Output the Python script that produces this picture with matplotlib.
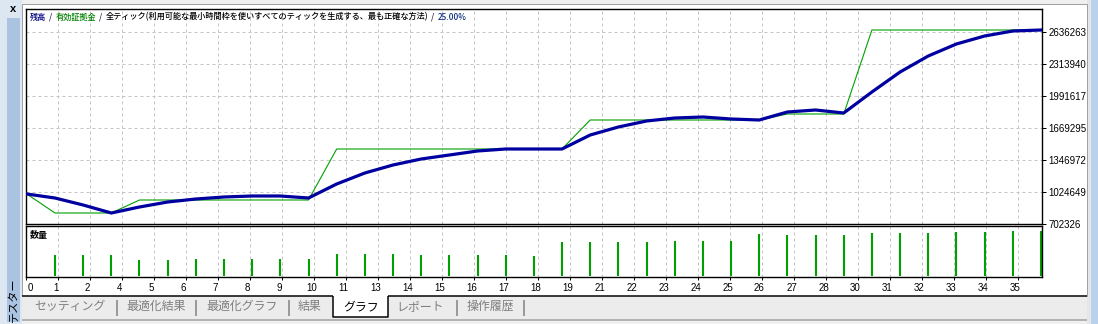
import matplotlib
matplotlib.use('Agg')
import matplotlib.pyplot as plt
from matplotlib.patches import Rectangle
from matplotlib.lines import Line2D
from matplotlib.transforms import ScaledTranslation
import numpy as np

# ---------------- data ----------------
trade_no = list(range(37))
balance = [1004500, 964200, 893700, 813100, 873600, 923900, 954100, 974300, 984400,
           984400, 964200, 1105200, 1216000, 1296600, 1357100, 1397300, 1437600,
           1457800, 1457800, 1457800, 1598800, 1679400, 1739800, 1770000, 1780100,
           1760000, 1749900, 1830500, 1850600, 1820400, 2031900, 2233400, 2394500,
           2515400, 2595900, 2646300, 2656400]
equity = [1004500, 813100, 813100, 813100, 944100, 944100, 944100, 944100, 944100,
          944100, 944100, 1457800, 1457800, 1457800, 1457800, 1457800, 1457800,
          1457800, 1457800, 1457800, 1749900, 1749900, 1749900, 1749900, 1749900,
          1749900, 1749900, 1810300, 1810300, 1810300, 2656400, 2656400, 2656400,
          2656400, 2656400, 2656400, 2656400]
volume_trade = list(range(1, 37))
volume = [2.1, 2.1, 2.1, 1.6, 1.6, 1.7, 1.7, 1.7, 1.7, 1.7, 2.2, 2.2, 2.2, 2.1, 2.1,
          2.1, 2.1, 2.0, 3.4, 3.4, 3.4, 3.4, 3.5, 3.5, 3.5, 4.2, 4.1, 4.1, 4.1, 4.3,
          4.3, 4.3, 4.4, 4.4, 4.5, 4.5]
x_tick_labels = ['0', '1', '2', '4', '5', '6', '7', '8', '9', '10', '11', '13', '14',
                 '15', '16', '17', '18', '19', '21', '22', '23', '24', '25', '26', '27',
                 '28', '30', '31', '32', '33', '34', '35']
y_tick_values = [702326, 1024649, 1346972, 1669295, 1991617, 2313940, 2636263]
title_parts = [('残高', '#000080'), ('/', '#202040'), ('有効証拠金', '#008000'), ('/', '#202040'),
               ('全ティック(利用可能な最小時間枠を使いすべてのティックを生成する、最も正確な方法)', '#000000'),
               ('/', '#202040'), ('25.00%', '#103080')]
tabs = ['セッティング', '最適化結果', '最適化グラフ', '結果', 'グラフ', 'レポート', '操作履歴']

# ---------------- figure ----------------
W, H, DPI = 1098, 324, 100
fig = plt.figure(figsize=(W / DPI, H / DPI), dpi=DPI)
fig.patch.set_facecolor('#f0f0f0')
JP = ['Noto Sans CJK JP', 'DejaVu Sans']
NUM = ['Liberation Sans', 'DejaVu Sans']


def fx(x):
    return x / W


def fy(y):
    return 1 - y / H


def rect(x0, y0, x1, y1, fc, ec='none', lw=0, z=-5):
    fig.add_artist(Rectangle((fx(x0), fy(y1)), (x1 - x0) / W, (y1 - y0) / H,
                             transform=fig.transFigure, facecolor=fc, edgecolor=ec,
                             linewidth=lw, zorder=z))


def line(xs, ys, color, lw=1.0, z=-4):
    fig.add_artist(Line2D([fx(v) for v in xs], [fy(v) for v in ys],
                          transform=fig.transFigure, color=color,
                          linewidth=lw * 0.72, zorder=z, solid_capstyle='butt'))


# window chrome
rect(0, 0, 22, 324, '#dde7f2')
rect(7, 18, 20, 322, '#a9c3e1')
rect(1087, 0, 1091, 324, '#e6e6e6')
rect(1091, 0, 1098, 324, '#b9d1ea')
rect(22, 4, 1087, 296, '#ffffff', ec='#a0a0a0', lw=0.72)
rect(22, 296, 1087, 319, '#ececec')
line([22, 1087], [320, 320], '#a0a0a0', lw=1.5)
fig.text(fx(13), fy(9), 'x', fontsize=8, fontweight='bold', ha='center', va='center',
         family=NUM, color='#000000')
fig.text(fx(14), fy(300), 'テスター', fontsize=8, rotation=90, ha='center', va='center',
         family=JP, color='#000000')

# tab bar
line([22, 333], [295.5, 295.5], '#000000', lw=1.5, z=2)
line([388, 1087], [295.5, 295.5], '#000000', lw=1.5, z=2)
rect(333, 295, 388, 317, '#ffffff', z=1)
line([333, 333, 388, 388], [295.5, 317, 317, 295.5], '#000000', lw=1.5, z=2)
tab_centers = [70, 156, 242, 310, 361, 420, 490]
for name, cx in zip(tabs, tab_centers):
    fig.text(fx(cx), fy(306.5), name, fontsize=8.6, ha='center', va='center',
             family=JP, color='#000000' if name == 'グラフ' else '#7f7f7f', zorder=3)
for sx in [117, 196, 289, 457, 524]:
    line([sx, sx], [300, 316], '#808080', lw=1.5, z=2)

# ---------------- axes ----------------
x0p, x1p = 26, 1042
bar_origin_px, px_per_trade = 26.8, 28.17


def px_to_data(p):
    return (p - bar_origin_px) / px_per_trade


ax = fig.add_axes([fx(x0p), fy(224), (x1p - x0p) / W, (224 - 9) / H])
axv = fig.add_axes([fx(x0p), fy(277), (x1p - x0p) / W, (277 - 226) / H])

grid_x = [px_to_data(x0p + 32 * k) for k in range(1, 32)]

ymin = y_tick_values[0]
ystep = y_tick_values[1] - y_tick_values[0]
ymax = ymin + ystep * 215 / 32

for a in (ax, axv):
    a.set_facecolor('#ffffff')
    a.set_xlim(px_to_data(x0p), px_to_data(x1p))
    for s in a.spines.values():
        s.set_color('#000000')
        s.set_linewidth(1.0)
    for gx in grid_x:
        a.axvline(gx, color='#c4c4c4', lw=0.72, ls=(0, (3, 3)), zorder=0)

for yv in y_tick_values[1:]:
    ax.axhline(yv, color='#c4c4c4', lw=0.72, ls=(0, (3, 3)), zorder=0)

ax.plot(trade_no, equity, color='#00a000', lw=0.8, zorder=2)
ax.plot(trade_no, balance, color='#0000a0', lw=2.3, zorder=3, solid_joinstyle='round')
ax.set_ylim(ymin, ymax)
ax.set_xticks([])
ax.yaxis.tick_right()
ax.set_yticks(y_tick_values)
ax.set_yticklabels([str(v) for v in y_tick_values])
ax.tick_params(axis='y', direction='out', length=3, width=0.72, pad=1.5,
               labelsize=7, colors='#000000')
for lab in ax.get_yticklabels():
    lab.set_family(NUM)

axv.vlines(volume_trade, 0, volume, color='#00a000', lw=1.5, zorder=2)
axv.set_ylim(-0.1, 5.0)
axv.set_yticks([])
axv.set_xticks([px_to_data(x0p)] + grid_x)
axv.set_xticklabels(x_tick_labels)
axv.tick_params(axis='x', direction='out', length=2.5, width=0.72, pad=1.5,
                labelsize=7, colors='#000000')
for i, lab in enumerate(axv.get_xticklabels()):
    lab.set_family(NUM)
    if i == 0:
        lab.set_ha('left')
        lab.set_transform(lab.get_transform() + ScaledTranslation(1.5 / DPI, 0, fig.dpi_scale_trans))
    else:
        lab.set_transform(lab.get_transform() + ScaledTranslation(-2.5 / DPI, 0, fig.dpi_scale_trans))

axv.text(0.004, 0.9, '数量', transform=axv.transAxes, fontsize=6.5, fontweight='bold',
         ha='left', va='top', family=JP, color='#000000')

# title line
renderer = fig.canvas.get_renderer()
xpos = 30
for txt, col in title_parts:
    t = fig.text(fx(xpos), fy(17), txt, fontsize=5.9, ha='left', va='center',
                 family=JP, color=col, zorder=5, fontweight='medium')
    bb = t.get_window_extent(renderer)
    xpos += bb.width + 3

fig.savefig('out.png', dpi=DPI, facecolor=fig.get_facecolor())
